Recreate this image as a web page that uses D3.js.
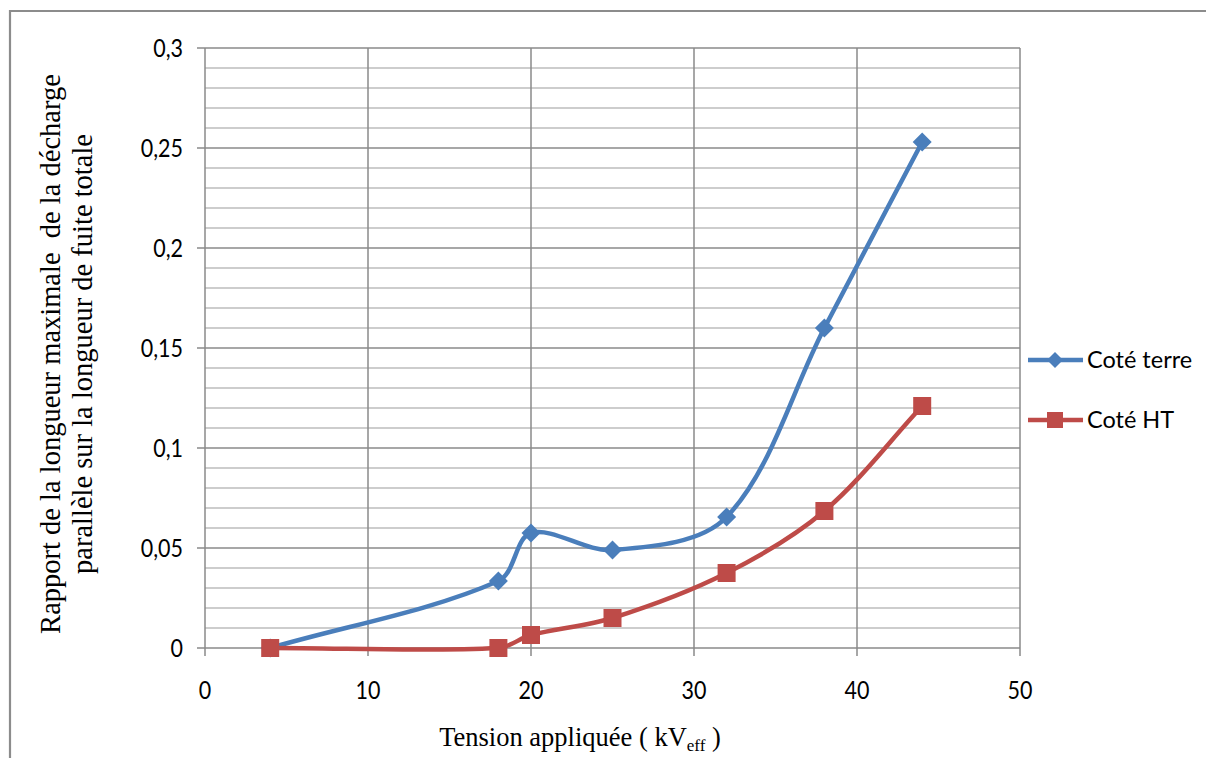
<!DOCTYPE html>
<html><head><meta charset="utf-8">
<script src="https://cdn.jsdelivr.net/npm/d3@7"></script>
<style>body{margin:0;background:#fff;} svg{display:block;} text{white-space:pre;}</style>
</head><body>
<svg id="c" width="1206" height="758"></svg>
<script>
const xValues = [4, 18, 20, 25, 32, 38, 44];
const terreValues = [0, 0.0335, 0.0575, 0.049, 0.0655, 0.160, 0.253];
const htValues = [0, 0, 0.0065, 0.015, 0.0375, 0.0685, 0.121];
const seriesNames = ["Coté terre", "Coté HT"];
const xTicks = [0, 10, 20, 30, 40, 50];
const yTicks = [0, 0.05, 0.1, 0.15, 0.2, 0.25, 0.3];
const yTickLabels = ["0", "0,05", "0,1", "0,15", "0,2", "0,25", "0,3"];

const svg = d3.select("#c");
const W = 1206, H = 758;
const m = {l: 205, t: 48, r: 1020, b: 648};
const x = d3.scaleLinear().domain([0, 50]).range([m.l, m.r]);
const y = d3.scaleLinear().domain([0, 0.3]).range([m.b, m.t]);

// outer border
svg.append("path").attr("d", `M10,${H+5}V11H${W+5}`).attr("fill", "none")
  .attr("stroke", "#8c8c8c").attr("stroke-width", 2.2);

// minor horizontal grid
const minor = d3.range(0, 31).map(i => i / 100);
svg.append("g").selectAll("line").data(minor.filter((d, i) => i % 5 !== 0)).join("line")
  .attr("x1", m.l).attr("x2", m.r).attr("y1", d => y(d)).attr("y2", d => y(d))
  .attr("stroke", "#bdbdbd").attr("stroke-width", 1.5);

// major horizontal grid with ticks
svg.append("g").selectAll("line").data(yTicks).join("line")
  .attr("x1", m.l - 8).attr("x2", m.r).attr("y1", d => y(d)).attr("y2", d => y(d))
  .attr("stroke", "#8a8a8a").attr("stroke-width", 1.5);

// vertical grid
svg.append("g").selectAll("line").data(xTicks).join("line")
  .attr("x1", d => x(d)).attr("x2", d => x(d)).attr("y1", m.t).attr("y2", m.b + 8)
  .attr("stroke", "#8a8a8a").attr("stroke-width", 1.5);

const tickFont = "Lato, 'Open Sans', sans-serif";
svg.append("g").selectAll("text").data(yTicks).join("text")
  .attr("transform", d => `translate(183,${y(d)}) scale(1,1.12)`).attr("dy", "0.36em").attr("text-anchor", "end")
  .attr("font-family", tickFont).attr("font-size", 21.5).attr("fill", "#000")
  .text((d, i) => yTickLabels[i]);
svg.append("g").selectAll("text").data(xTicks).join("text")
  .attr("transform", d => `translate(${x(d)},699) scale(1,1.12)`).attr("text-anchor", "middle")
  .attr("font-family", tickFont).attr("font-size", 21.5).attr("fill", "#000")
  .text(d => d);

// axis titles
const serif = "'Liberation Serif', 'DejaVu Serif', serif";
const xt = svg.append("text").attr("x", 580).attr("y", 746).attr("text-anchor", "middle")
  .attr("font-family", serif).attr("font-size", 26.5).attr("fill", "#000");
xt.append("tspan").text("Tension appliquée ( kV");
xt.append("tspan").attr("font-size", 17).attr("dy", 5).text("eff");
xt.append("tspan").attr("dy", -5).text(" )");

const yt = svg.append("text").attr("transform", "translate(59.5,354) rotate(-90)")
  .attr("text-anchor", "middle").attr("font-family", serif).attr("font-size", 28.5).attr("fill", "#000");
yt.append("tspan").attr("x", 0).attr("dy", 0).text("Rapport de la longueur maximale  de la décharge");
yt.append("tspan").attr("x", 0).attr("dy", 32.5).text("parallèle sur la longueur de fuite totale");

// series
const colors = ["#4a7ebb", "#be4b48"];
const data = [terreValues, htValues].map(v => xValues.map((xv, i) => [xv, v[i]]));

// smoothed line (chord-length weighted cardinal spline, similar to spreadsheet smoothing)
function smoothPath(series) {
  const p = series.map(d => [x(d[0]), y(d[1])]);
  const n = p.length;
  const dist = (a, b) => Math.hypot(b[0] - a[0], b[1] - a[1]);
  const path = d3.path();
  path.moveTo(p[0][0], p[0][1]);
  const tangent = i => {
    const a = p[Math.max(0, i - 1)], b = p[Math.min(n - 1, i + 1)];
    return [b[0] - a[0], b[1] - a[1]];
  };
  for (let i = 0; i < n - 1; i++) {
    const dPrevA = i > 0 ? dist(p[i - 1], p[i]) : 0;
    const dSeg = dist(p[i], p[i + 1]);
    const dNextB = i + 2 < n ? dist(p[i + 1], p[i + 2]) : 0;
    const tA = tangent(i), tB = tangent(i + 1);
    const fA = dSeg / (dPrevA + dSeg) / 3;
    const fB = dSeg / (dSeg + dNextB) / 3;
    path.bezierCurveTo(
      p[i][0] + tA[0] * fA, p[i][1] + tA[1] * fA,
      p[i + 1][0] - tB[0] * fB, p[i + 1][1] - tB[1] * fB,
      p[i + 1][0], p[i + 1][1]);
  }
  return path.toString();
}
data.forEach((s, k) => {
  svg.append("path").attr("d", smoothPath(s)).attr("fill", "none")
    .attr("stroke", colors[k]).attr("stroke-width", 4.5).attr("stroke-linejoin", "round");
});
const diamond = (cx, cy, r) => `M${cx},${cy - r}L${cx + r},${cy}L${cx},${cy + r}L${cx - r},${cy}Z`;
svg.append("g").selectAll("path").data(data[0]).join("path")
  .attr("d", d => diamond(x(d[0]), y(d[1]), 9.5)).attr("fill", colors[0]);
svg.append("g").selectAll("rect").data(data[1]).join("rect")
  .attr("x", d => x(d[0]) - 9).attr("y", d => y(d[1]) - 9).attr("width", 18).attr("height", 18)
  .attr("fill", colors[1]);

// legend
const lg = svg.append("g");
[360, 420].forEach((ly, k) => {
  lg.append("line").attr("x1", 1028).attr("x2", 1083).attr("y1", ly).attr("y2", ly)
    .attr("stroke", colors[k]).attr("stroke-width", 4.5);
  if (k === 0) lg.append("path").attr("d", diamond(1055, ly, 8)).attr("fill", colors[0]);
  else lg.append("rect").attr("x", 1047).attr("y", ly - 8).attr("width", 16).attr("height", 16).attr("fill", colors[1]);
  lg.append("text").attr("x", 1087).attr("y", ly).attr("dy", "0.36em")
    .attr("font-family", tickFont).attr("font-size", 23.5).attr("fill", "#000").text(seriesNames[k]);
});
</script>
</body></html>
